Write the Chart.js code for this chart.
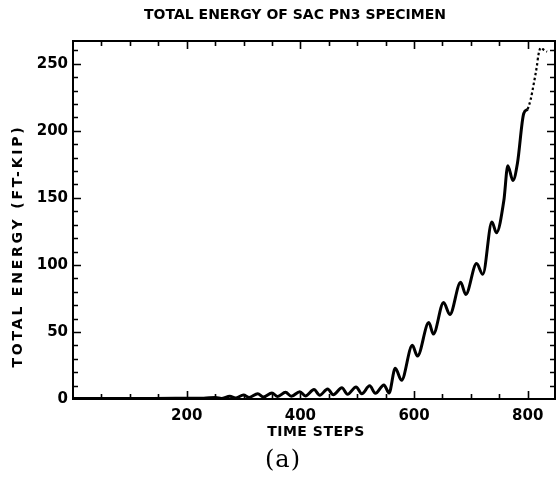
<!DOCTYPE html>
<html>
<head>
<meta charset="utf-8">
<script src="https://cdn.jsdelivr.net/npm/chart.js@4/dist/chart.umd.min.js"></script>
<style>
  html, body { margin: 0; padding: 0; background: #fff; }
  #wrap { position: relative; width: 559px; height: 484px; }
</style>
</head>
<body>
<div id="wrap"><canvas id="c" width="559" height="484"></canvas></div>
<script>
// Total energy history (ft-kip) against time step
const steps = [
  0, 60, 120, 180, 230,
  251, 261, 276, 286, 300, 310, 325, 335, 350, 360, 374, 384,
  399, 409, 424, 434, 448, 458, 473, 483, 498, 508, 522, 532, 547, 556,
  567, 578, 597, 606, 626, 634, 652, 663, 682, 691, 710, 721,
  737, 745, 758, 765, 774, 782, 793, 800
];
const energy = [
  0.3, 0.3, 0.4, 0.5, 0.6,
  1.2, 0.4, 2.0, 0.8, 3.0, 1.2, 4.0, 1.5, 4.5, 1.8, 5.0, 2.0,
  5.5, 2.3, 7.0, 2.8, 7.5, 3.2, 8.3, 3.5, 9.0, 3.9, 9.8, 4.2, 10.5, 4.5,
  23, 14, 40, 32, 57, 48.5, 72, 63, 87, 78, 101, 93,
  132, 124, 148, 174, 163, 176, 213, 216
];
// Final steps, plotted dotted
const tailSteps  = [800, 805, 811, 816, 819, 823, 828, 834];
const tailEnergy = [216, 223, 236, 248, 257, 262, 260.5, 259];

const xTickValues = [200, 400, 600, 800];
const yTickValues = [0, 50, 100, 150, 200, 250];

const titleText = 'TOTAL ENERGY OF SAC PN3 SPECIMEN';
const xTitle = 'TIME STEPS';
const yTitle = 'TOTAL ENERGY (FT-KIP)';
const caption = '(a)';

const toPoints = (xs, ys) => xs.map((x, i) => ({ x: x, y: ys[i] }));

const labelFont = { family: 'DejaVu Sans', size: 15, weight: 'bold' };

// Boxed frame with inward ticks on all four sides, plus the text labels
const framePlugin = {
  id: 'frame',
  afterDraw(chart) {
    const { ctx, chartArea: a, scales } = chart;
    const xs = scales.x, ys = scales.y;
    ctx.save();
    ctx.strokeStyle = '#000';
    ctx.lineWidth = 2;
    ctx.strokeRect(a.left, a.top, a.right - a.left, a.bottom - a.top);

    ctx.lineWidth = 1.6;
    ctx.beginPath();
    for (let v = 50; v < xs.max; v += 50) {
      const px = Math.round(xs.getPixelForValue(v)) + 0.5;
      const len = v % 200 === 0 ? 8 : 5;
      ctx.moveTo(px, a.bottom); ctx.lineTo(px, a.bottom - len);
      ctx.moveTo(px, a.top); ctx.lineTo(px, a.top + len);
    }
    for (let v = 10; v < ys.max; v += 10) {
      const py = Math.round(ys.getPixelForValue(v)) + 0.5;
      const len = v % 50 === 0 ? 8 : 5;
      ctx.moveTo(a.left, py); ctx.lineTo(a.left + len, py);
      ctx.moveTo(a.right, py); ctx.lineTo(a.right - len, py);
    }
    ctx.stroke();

    ctx.fillStyle = '#000';
    ctx.textAlign = 'center';
    ctx.textBaseline = 'middle';
    ctx.font = 'bold 14px "DejaVu Sans"';
    ctx.fillText(titleText, 295, 15);
    ctx.letterSpacing = '0.5px';
    ctx.fillText(xTitle, 316, 432);
    ctx.save();
    ctx.translate(18, 246);
    ctx.rotate(-Math.PI / 2);
    ctx.letterSpacing = '2.8px';
    ctx.fillText(yTitle, 0, 0);
    ctx.restore();
    ctx.letterSpacing = '1px';
    ctx.font = '24px "DejaVu Serif"';
    ctx.fillText(caption, 283, 461);
    ctx.restore();
  }
};

new Chart(document.getElementById('c'), {
  type: 'line',
  data: {
    datasets: [
      {
        data: toPoints(steps, energy),
        borderColor: '#000',
        borderWidth: 3,
        pointRadius: 0,
        cubicInterpolationMode: 'monotone',
        fill: false
      },
      {
        data: toPoints(tailSteps, tailEnergy),
        borderColor: '#000',
        borderWidth: 2.2,
        borderDash: [2.5, 2.5],
        pointRadius: 0,
        cubicInterpolationMode: 'monotone',
        fill: false
      }
    ]
  },
  options: {
    responsive: false,
    animation: false,
    devicePixelRatio: 1,
    layout: { padding: { top: 41, right: 4, bottom: 0, left: 10 } },
    plugins: { legend: { display: false }, tooltip: { enabled: false }, title: { display: false } },
    scales: {
      x: {
        type: 'linear',
        min: 0,
        max: 848,
        grid: { display: false, drawTicks: false },
        border: { display: false },
        afterBuildTicks: s => { s.ticks = xTickValues.map(v => ({ value: v })); },
        afterFit: s => { s.height = 85; },
        ticks: { color: '#000', font: labelFont, padding: 8, maxRotation: 0 }
      },
      y: {
        type: 'linear',
        min: 0,
        max: 267,
        grid: { display: false, drawTicks: false },
        border: { display: false },
        afterBuildTicks: s => { s.ticks = yTickValues.map(v => ({ value: v })); },
        afterFit: s => { s.width = 63; },
        ticks: { color: '#000', font: labelFont, padding: 5 }
      }
    }
  },
  plugins: [framePlugin]
});
</script>
</body>
</html>
